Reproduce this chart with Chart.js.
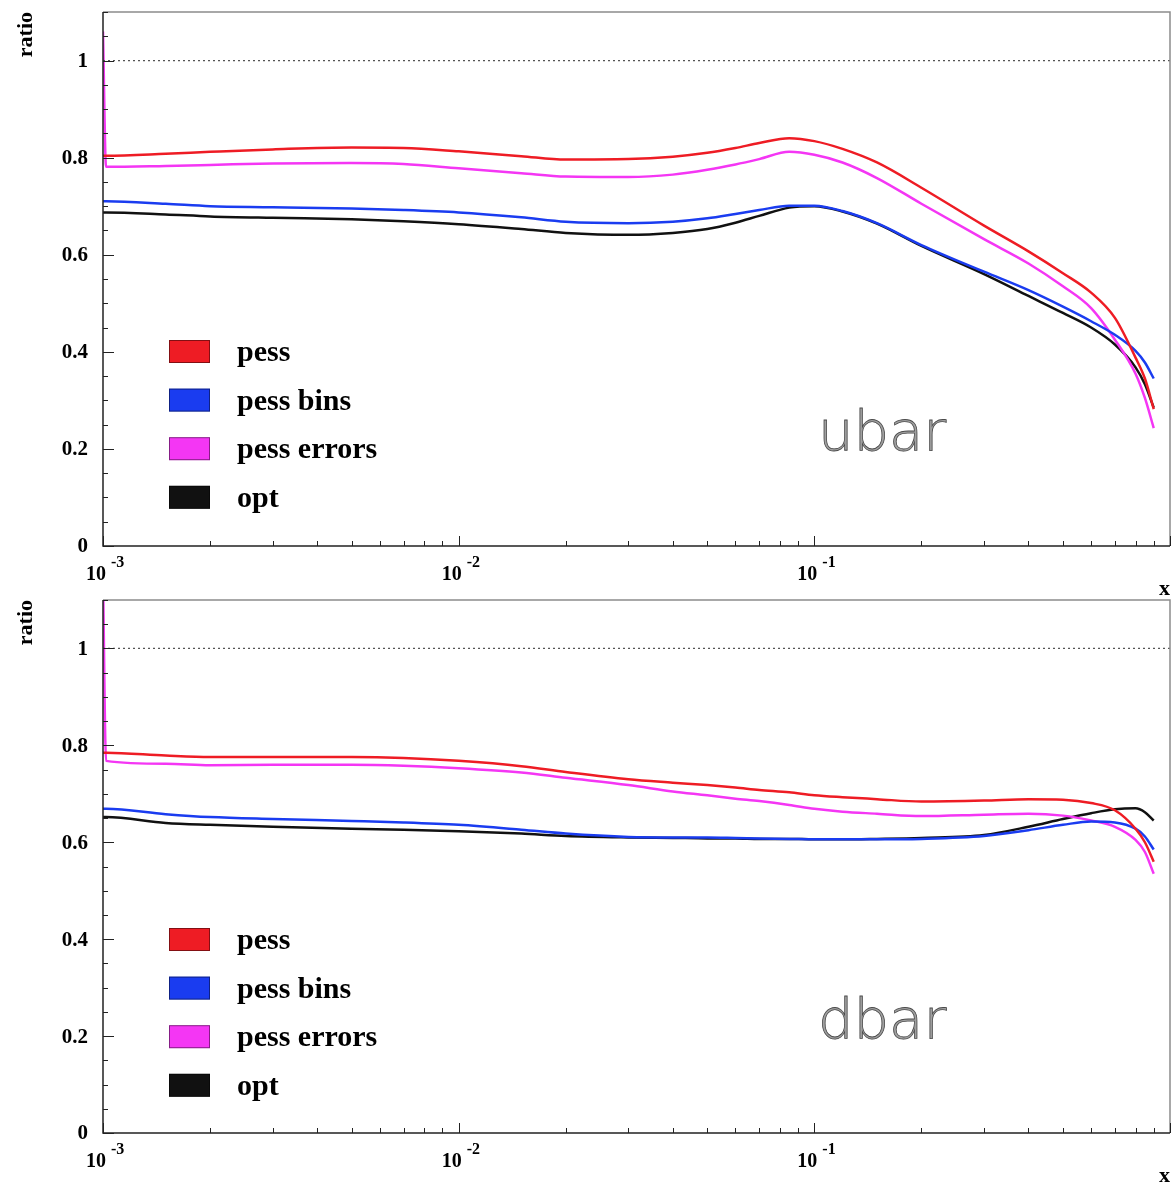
<!DOCTYPE html>
<html>
<head>
<meta charset="utf-8">
<script src="https://cdn.jsdelivr.net/npm/chart.js@4.4.0/dist/chart.umd.min.js"></script>
<style>
  body { margin: 0; background: #fff; }
  #wrap { position: relative; width: 1176px; height: 1185px; }
  canvas { position: absolute; left: 0; }
  #ubar_chart { top: 0; }
  #dbar_chart { top: 588px; }
</style>
</head>
<body>
<div id="wrap">
  <canvas id="ubar_chart" width="1176" height="600"></canvas>
  <canvas id="dbar_chart" width="1176" height="597"></canvas>
</div>
<script>
// x grid shared by every curve (first bin carries the edge spike)
const x_values = [0.001, 0.00102, 0.0015, 0.002, 0.003, 0.005, 0.007, 0.01, 0.015, 0.02, 0.03,
  0.04, 0.05, 0.06, 0.07, 0.085, 0.1, 0.12, 0.15, 0.2, 0.3, 0.4, 0.5, 0.6, 0.7, 0.8, 0.85, 0.9];

const ubar_pess   = [0.804, 0.804, 0.808, 0.812, 0.817, 0.821, 0.820, 0.813, 0.803, 0.796, 0.797,
  0.802, 0.810, 0.820, 0.830, 0.840, 0.834, 0.818, 0.790, 0.738, 0.660, 0.607, 0.562, 0.522, 0.470, 0.388, 0.345, 0.282];
const ubar_bins   = [0.710, 0.710, 0.705, 0.700, 0.698, 0.695, 0.692, 0.687, 0.677, 0.668, 0.665,
  0.668, 0.675, 0.684, 0.692, 0.701, 0.701, 0.690, 0.665, 0.620, 0.565, 0.527, 0.493, 0.463, 0.435, 0.402, 0.378, 0.345];
const ubar_errors = [1.06, 0.781, 0.783, 0.785, 0.788, 0.789, 0.787, 0.778, 0.768, 0.761, 0.760,
  0.765, 0.775, 0.786, 0.797, 0.812, 0.806, 0.790, 0.758, 0.705, 0.632, 0.582, 0.535, 0.490, 0.425, 0.355, 0.305, 0.243];
const ubar_opt    = [0.687, 0.687, 0.683, 0.679, 0.676, 0.673, 0.669, 0.663, 0.653, 0.645, 0.641,
  0.645, 0.653, 0.666, 0.680, 0.697, 0.700, 0.689, 0.664, 0.618, 0.560, 0.515, 0.480, 0.450, 0.415, 0.368, 0.333, 0.285];

const dbar_pess   = [0.785, 0.785, 0.779, 0.776, 0.776, 0.776, 0.774, 0.768, 0.757, 0.745, 0.730,
  0.723, 0.718, 0.713, 0.708, 0.703, 0.697, 0.693, 0.689, 0.684, 0.686, 0.689, 0.688, 0.681, 0.666, 0.628, 0.600, 0.560];
const dbar_bins   = [0.669, 0.669, 0.658, 0.652, 0.648, 0.644, 0.641, 0.636, 0.626, 0.618, 0.611,
  0.610, 0.610, 0.609, 0.608, 0.607, 0.606, 0.606, 0.606, 0.607, 0.613, 0.625, 0.636, 0.643, 0.641, 0.628, 0.612, 0.585];
const dbar_errors = [1.15, 0.768, 0.762, 0.759, 0.760, 0.760, 0.758, 0.753, 0.744, 0.733, 0.718,
  0.705, 0.697, 0.690, 0.685, 0.677, 0.669, 0.663, 0.659, 0.654, 0.657, 0.659, 0.655, 0.645, 0.632, 0.605, 0.580, 0.535];
const dbar_opt    = [0.652, 0.652, 0.640, 0.636, 0.632, 0.628, 0.626, 0.623, 0.618, 0.613, 0.610,
  0.609, 0.608, 0.608, 0.607, 0.607, 0.606, 0.606, 0.607, 0.609, 0.615, 0.632, 0.648, 0.660, 0.668, 0.670, 0.662, 0.645];

const series_labels = ['pess', 'pess bins', 'pess errors', 'opt'];
const series_colors = ['#ee1c24', '#1a3cf0', '#f436f4', '#111111'];

// axis ticks and labels
const y_major = [0, 0.2, 0.4, 0.6, 0.8, 1];
const y_labels = ['0', '0.2', '0.4', '0.6', '0.8', '1'];
const y_minor_step = 0.05;
const x_decades = [0.001, 0.01, 0.1];
const x_exponents = ['-3', '-2', '-1'];
const ref_ratio = 1;

const SERIF = '"Liberation Serif", "Times New Roman", serif';

const panelDecor = {
  id: 'panelDecor',
  afterDraw(chart, args, opts) {
    const ctx = chart.ctx;
    const a = chart.chartArea;
    const xs = chart.scales.x, ys = chart.scales.y;
    ctx.save();

    // frame: grey top/right, dark axes left/bottom
    ctx.lineWidth = 1.5;
    ctx.strokeStyle = '#8c8c8c';
    ctx.beginPath();
    ctx.moveTo(a.left, a.top); ctx.lineTo(a.right, a.top); ctx.lineTo(a.right, a.bottom);
    ctx.stroke();
    ctx.strokeStyle = '#222';
    ctx.beginPath();
    ctx.moveTo(a.left, a.top); ctx.lineTo(a.left, a.bottom); ctx.lineTo(a.right, a.bottom);
    ctx.stroke();

    // y ticks (inside)
    ctx.lineWidth = 1;
    ctx.beginPath();
    for (let v = 0; v <= ys.max + 1e-9; v += y_minor_step) {
      const y = Math.round(ys.getPixelForValue(v)) + 0.5;
      const major = y_major.some(m => Math.abs(m - v) < 1e-6);
      ctx.moveTo(a.left, y); ctx.lineTo(a.left + (major ? 11 : 5), y);
    }
    // x ticks (inside, pointing up)
    x_decades.concat([1]).forEach(d => {
      const px = Math.round(xs.getPixelForValue(d)) + 0.5;
      ctx.moveTo(px, a.bottom); ctx.lineTo(px, a.bottom - 10);
      if (d < 1) {
        for (let m = 2; m <= 9; m++) {
          const q = Math.round(xs.getPixelForValue(m * d)) + 0.5;
          ctx.moveTo(q, a.bottom); ctx.lineTo(q, a.bottom - 5);
        }
      }
    });
    ctx.stroke();

    // y labels
    ctx.fillStyle = '#000';
    ctx.font = 'bold 21px ' + SERIF;
    ctx.textAlign = 'right';
    ctx.textBaseline = 'middle';
    y_major.forEach((v, i) => ctx.fillText(y_labels[i], a.left - 15, ys.getPixelForValue(v) + 1));

    // x labels: 10 with superscript exponent
    ctx.textBaseline = 'alphabetic';
    x_decades.forEach((d, i) => {
      const px = xs.getPixelForValue(d);
      ctx.font = 'bold 20px ' + SERIF;
      ctx.textAlign = 'right';
      ctx.fillText('10', px + 3, a.bottom + 34);
      ctx.font = 'bold 16px ' + SERIF;
      ctx.textAlign = 'left';
      ctx.fillText(x_exponents[i], px + 8, a.bottom + 21);
    });

    // axis titles
    ctx.font = 'bold 22px ' + SERIF;
    ctx.textAlign = 'right';
    ctx.fillText('x', a.right, a.bottom + 49);
    ctx.save();
    ctx.translate(32, 12);
    ctx.rotate(-Math.PI / 2);
    ctx.fillText('ratio', 0, 0);
    ctx.restore();

    // legend boxes inside the frame
    const items = chart.data.datasets.filter(ds => ds.inLegend);
    items.forEach((ds, i) => {
      const bx = a.left + 66, by = a.top + 328 + i * 48.6;
      ctx.fillStyle = ds.borderColor;
      ctx.fillRect(bx, by, 41, 23);
      ctx.strokeStyle = 'rgba(0,0,0,0.45)';
      ctx.lineWidth = 1;
      ctx.strokeRect(bx + 0.5, by + 0.5, 40, 22);
      ctx.fillStyle = '#000';
      ctx.font = 'bold 30px ' + SERIF;
      ctx.textAlign = 'left';
      ctx.fillText(ds.label, a.left + 134, by + 21);
    });

    // panel tag
    ctx.font = '200 56px "DejaVu Sans", "Open Sans", sans-serif';
    ctx.textAlign = 'left';
    ctx.fillStyle = '#a0a0a0';
    ctx.fillText(opts.tag, 818, 450);
    ctx.strokeStyle = '#4a4a4a';
    ctx.lineWidth = 0.8;
    ctx.strokeText(opts.tag, 818, 450);

    ctx.restore();
  }
};

function buildPanel(canvasId, tag, curves, padBottom) {
  const datasets = curves.map((vals, i) => ({
    label: series_labels[i],
    inLegend: true,
    data: x_values.map((x, k) => ({ x: x, y: vals[k] })),
    borderColor: series_colors[i],
    backgroundColor: series_colors[i],
    borderWidth: 2.5,
    pointRadius: 0,
    cubicInterpolationMode: 'monotone'
  }));
  // dotted reference at ratio 1
  datasets.unshift({
    label: 'ref',
    inLegend: false,
    data: [{ x: 0.001, y: ref_ratio }, { x: 1, y: ref_ratio }],
    borderColor: '#555',
    borderWidth: 1.2,
    borderDash: [2, 3],
    pointRadius: 0
  });

  return new Chart(document.getElementById(canvasId), {
    type: 'line',
    data: { datasets: datasets },
    options: {
      responsive: false,
      animation: false,
      layout: { padding: { left: 103, right: 6, top: 12, bottom: padBottom } },
      plugins: {
        legend: { display: false },
        tooltip: { enabled: false },
        panelDecor: { tag: tag }
      },
      scales: {
        x: { type: 'logarithmic', min: 0.001, max: 1, display: false },
        y: { type: 'linear', min: 0, max: 1.1, display: false }
      }
    },
    plugins: [panelDecor]
  });
}

buildPanel('ubar_chart', 'ubar', [ubar_pess, ubar_bins, ubar_errors, ubar_opt], 54);
buildPanel('dbar_chart', 'dbar', [dbar_pess, dbar_bins, dbar_errors, dbar_opt], 52);
</script>
</body>
</html>
